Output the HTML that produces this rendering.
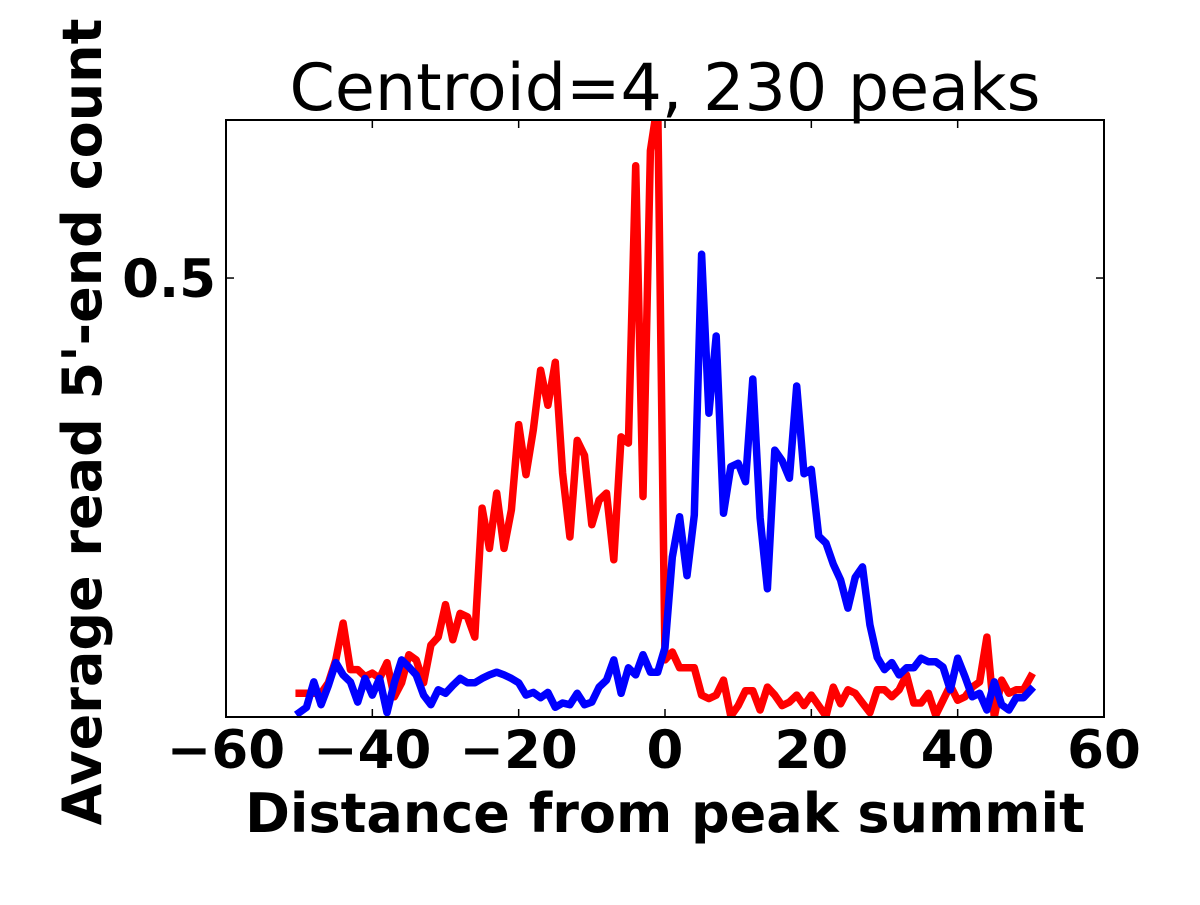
<!DOCTYPE html>
<html><head><meta charset="utf-8"><style>
body{margin:0;background:#fff;}
svg text{font-family:"DejaVu Sans","Liberation Sans",sans-serif;}
</style></head><body>
<svg id="chart" width="1200" height="900" xmlns="http://www.w3.org/2000/svg">
<defs><clipPath id="clip"><rect x="226" y="120" width="878" height="597"/></clipPath></defs>
<text x="665" y="110" font-size="65" text-anchor="middle">Centroid=4, 230 peaks</text>
<g id="series" clip-path="url(#clip)"></g>
<rect x="226" y="120" width="878" height="597" fill="none" stroke="#000" stroke-width="2"/>
<g id="ticks"></g>
<text x="665" y="832" font-size="54" font-weight="bold" text-anchor="middle">Distance from peak summit</text>
<text transform="translate(101,422) rotate(-90)" font-size="54" font-weight="bold" text-anchor="middle">Average read 5'-end count</text>
</svg>
<script>
const xTicks = [-60, -40, -20, 0, 20, 40, 60];
const xTickLabels = ["\u221260", "\u221240", "\u221220", "0", "20", "40", "60"];
const yTicks = [0.5];
const yTickLabels = ["0.5"];
const positions = [];
for (let i = -50; i <= 50; i++) positions.push(i);
const redValues = [.027,.027,.027,.027,.039,.065,.107,.054,.054,.046,
.050,.044,.062,.023,.039,.071,.065,.039,.082,.091,
.128,.088,.118,.114,.091,.238,.192,.255,.192,.236,
.333,.276,.327,.395,.355,.404,.278,.205,.315,.298,
.219,.247,.255,.179,.319,.312,.628,.251,.645,.70,
.065,.074,.056,.056,.056,.025,.021,.025,.042,.001,
.013,.030,.030,.008,.034,.025,.013,.017,.025,.013,
.025,.013,.001,.034,.015,.031,.027,.016,.005,.031,
.031,.023,.031,.048,.016,.016,.027,.002,.019,.036,
.019,.023,.034,.040,.091,.000,.042,.027,.031,.031,.046];
const blueValues = [.005,.011,.040,.014,.036,.062,.048,.040,.017,.044,
.025,.044,.005,.039,.065,.057,.048,.025,.014,.031,
.027,.036,.044,.039,.039,.044,.048,.051,.048,.044,
.039,.025,.028,.022,.028,.011,.016,.014,.027,.014,
.017,.034,.042,.065,.027,.056,.048,.071,.051,.051,
.079,.182,.228,.161,.230,.527,.346,.434,.232,.285,
.289,.268,.385,.227,.146,.304,.292,.272,.377,.277,
.282,.206,.198,.174,.156,.124,.159,.171,.105,.068,
.054,.062,.048,.056,.056,.067,.063,.063,.057,.031,
.067,.046,.023,.027,.008,.040,.014,.008,.022,.022,.031];
const NS = "http://www.w3.org/2000/svg";
const X0 = 226, X1 = 1104, Y0 = 717, Y1 = 120;
const xMin = -60, xMax = 60, yMin = 0, yMax = 0.68;
function sx(v){ return X0 + (v - xMin) / (xMax - xMin) * (X1 - X0); }
function sy(v){ return Y0 - (v - yMin) / (yMax - yMin) * (Y0 - Y1); }
const series = document.getElementById('series');
function drawLine(vals, color, name){
  const p = document.createElementNS(NS, 'polyline');
  p.setAttribute('points', vals.map((v,i)=>sx(positions[i]).toFixed(1)+','+sy(v).toFixed(1)).join(' '));
  p.setAttribute('fill','none'); p.setAttribute('stroke',color);
  p.setAttribute('stroke-width','7.5'); p.setAttribute('stroke-linejoin','round'); p.setAttribute('stroke-linecap','square');
  
  
  series.appendChild(p);
}
drawLine(redValues, '#ff0000', 'red-series-line');
drawLine(blueValues, '#0000ff', 'blue-series-line');
const tg = document.getElementById('ticks');
xTicks.forEach((t,i)=>{
  const x = sx(t);
  [[Y0, Y0-8],[Y1, Y1+8]].forEach(([a,b])=>{
    const l = document.createElementNS(NS,'line');
    l.setAttribute('x1',x); l.setAttribute('x2',x); l.setAttribute('y1',a); l.setAttribute('y2',b);
    l.setAttribute('stroke','#000'); l.setAttribute('stroke-width','1.5');
    
    
    tg.appendChild(l);
  });
  const tx = document.createElementNS(NS,'text');
  tx.setAttribute('x', x); tx.setAttribute('y', 768);
  tx.setAttribute('font-size','53'); tx.setAttribute('font-weight','bold'); tx.setAttribute('text-anchor','middle');
  tx.textContent = xTickLabels[i];
  
  
  tg.appendChild(tx);
});
yTicks.forEach((t,i)=>{
  const y = sy(t);
  [[X0, X0+8],[X1, X1-8]].forEach(([a,b])=>{
    const l = document.createElementNS(NS,'line');
    l.setAttribute('x1',a); l.setAttribute('x2',b); l.setAttribute('y1',y); l.setAttribute('y2',y);
    l.setAttribute('stroke','#000'); l.setAttribute('stroke-width','1.5');
    
    
    tg.appendChild(l);
  });
  const tx = document.createElementNS(NS,'text');
  tx.setAttribute('x', 216); tx.setAttribute('y', y+19);
  tx.setAttribute('font-size','53'); tx.setAttribute('font-weight','bold'); tx.setAttribute('text-anchor','end');
  tx.textContent = yTickLabels[i];
  
  
  tg.appendChild(tx);
});
</script>
</body></html>
